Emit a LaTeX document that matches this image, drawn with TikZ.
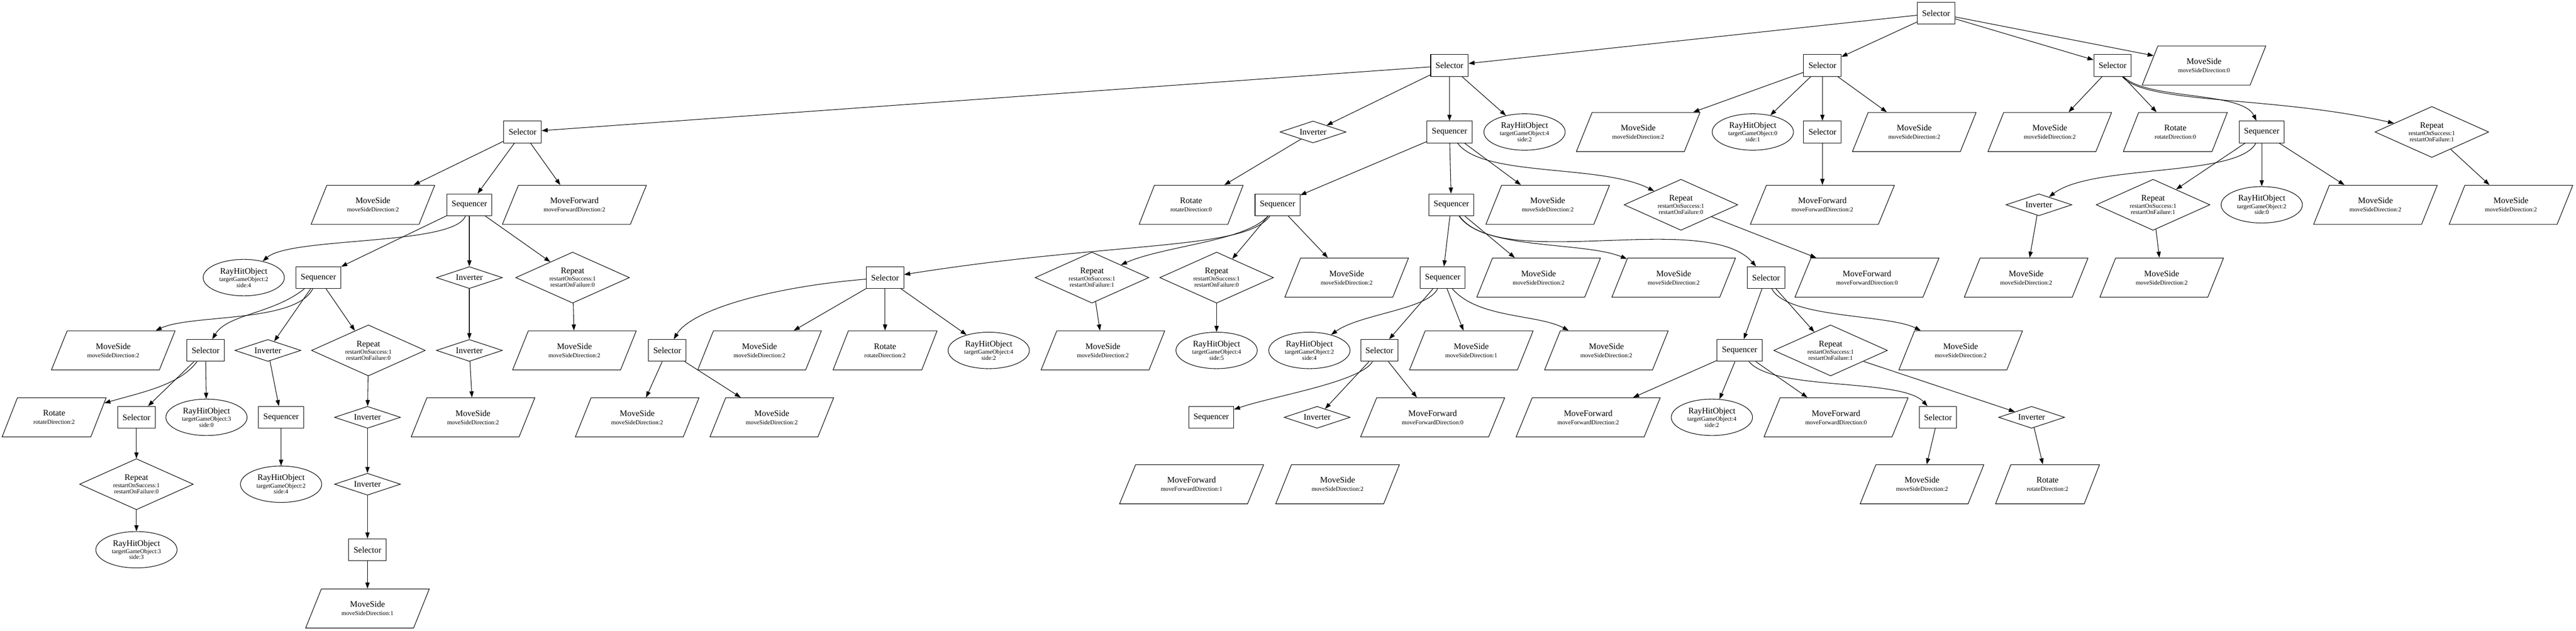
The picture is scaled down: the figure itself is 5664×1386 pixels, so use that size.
\documentclass[tikz,border=0pt]{standalone}
\usepackage{fontspec}
\setmainfont{Liberation Serif}
\usetikzlibrary{arrows.meta,shapes.geometric}
\newcommand{\twol}[2]{#1\\[1.5pt]{\fontsize{10}{12}\selectfont #2}}
\newcommand{\threel}[3]{#1\\{\fontsize{10}{12}\selectfont #2}\\[-2pt]{\fontsize{10}{12}\selectfont #3}}
\begin{document}
\begin{tikzpicture}[x=0.75pt,y=-0.75pt,
  font=\fontsize{14}{12}\selectfont,
  every node/.style={draw, line width=0.9pt, align=center},
  box/.style={rectangle, minimum height=36pt, inner xsep=8pt, inner ysep=0pt},
  par/.style={trapezium, trapezium left angle=58, trapezium right angle=122, trapezium stretches=true, minimum height=64.5pt, inner sep=0pt},
  msd/.style={par, minimum width=204pt},
  mfd/.style={par, minimum width=238pt},
  rod/.style={par, minimum width=172pt},
  inv/.style={diamond, aspect=3, minimum width=108.75pt, minimum height=36pt, inner sep=0pt},
  rep/.style={diamond, aspect=2.2, minimum width=187.5pt, minimum height=84pt, inner sep=0pt},
  rh/.style={ellipse, minimum width=134pt, minimum height=60pt, inner sep=0pt},
  edg/.style={draw, line width=0.9pt, -{Triangle[length=10pt,width=7pt]}}
]
\useasboundingbox (0,0) rectangle (5664,1386);
% rank 0
\node[box] (r) at (4257,29) {Selector};
% rank 1
\node[box] (s1) at (3187,144) {Selector};
\node[box] (s2) at (4007,144) {Selector};
\node[box] (s3) at (4645,144) {Selector};
\node[msd] (m1) at (4846,144) {\twol{MoveSide}{moveSideDirection:0}};
% rank 2
\node[box] (sA) at (1149,290) {Selector};
\node[inv] (inv1) at (2887,290) {Inverter};
\node[box] (q1) at (3187,290) {Sequencer};
\node[rh] (rh1) at (3352,290) {\threel{RayHitObject}{targetGameObject:4}{side:2}};
\node[msd] (ms2a) at (3602,290) {\twol{MoveSide}{moveSideDirection:2}};
\node[rh] (rh2) at (3854,290) {\threel{RayHitObject}{targetGameObject:0}{side:1}};
\node[box] (s2b) at (4007,290) {Selector};
\node[msd] (ms2c) at (4209,290) {\twol{MoveSide}{moveSideDirection:2}};
\node[msd] (ms3a) at (4507,290) {\twol{MoveSide}{moveSideDirection:2}};
\node[rod] (ro3) at (4783,290) {\twol{Rotate}{rotateDirection:0}};
\node[box] (q3) at (4973,290) {Sequencer};
\node[rep] (rp3) at (5347,290) {\threel{Repeat}{restartOnSuccess:1}{restartOnFailure:1}};
% rank 3
\node[msd] (msL) at (820,450) {\twol{MoveSide}{moveSideDirection:2}};
\node[box] (qL) at (1032,450) {Sequencer};
\node[mfd] (mfL) at (1263,450) {\twol{MoveForward}{moveForwardDirection:2}};
\node[rod] (ro1) at (2619,450) {\twol{Rotate}{rotateDirection:0}};
\node[box] (qS1) at (2809,450) {Sequencer};
\node[box] (qS2) at (3191,450) {Sequencer};
\node[msd] (msq1) at (3403,450) {\twol{MoveSide}{moveSideDirection:2}};
\node[rep] (rpq1) at (3696,450) {\threel{Repeat}{restartOnSuccess:1}{restartOnFailure:0}};
\node[mfd] (mf2) at (4007,450) {\twol{MoveForward}{moveForwardDirection:2}};
\node[inv] (inv3) at (4483,450) {Inverter};
\node[rep] (rp3b) at (4734,450) {\threel{Repeat}{restartOnSuccess:1}{restartOnFailure:1}};
\node[rh] (rh3) at (4973,450) {\threel{RayHitObject}{targetGameObject:2}{side:0}};
\node[msd] (ms3b) at (5223,450) {\twol{MoveSide}{moveSideDirection:2}};
\node[msd] (ms3c) at (5521,450) {\twol{MoveSide}{moveSideDirection:2}};
% rank 4
\node[rh] (rhL) at (536,610) {\threel{RayHitObject}{targetGameObject:2}{side:4}};
\node[box] (qL2) at (700,610) {Sequencer};
\node[inv] (invL) at (1032,610) {Inverter};
\node[rep] (rpL) at (1259,610) {\threel{Repeat}{restartOnSuccess:1}{restartOnFailure:0}};
\node[box] (sM) at (1946,610) {Selector};
\node[rep] (rpM1) at (2401,610) {\threel{Repeat}{restartOnSuccess:1}{restartOnFailure:1}};
\node[rep] (rpM2) at (2675,610) {\threel{Repeat}{restartOnSuccess:1}{restartOnFailure:0}};
\node[msd] (msM) at (2961,610) {\twol{MoveSide}{moveSideDirection:2}};
\node[box] (qM) at (3172,610) {Sequencer};
\node[msd] (msM2) at (3383,610) {\twol{MoveSide}{moveSideDirection:2}};
\node[msd] (msM3) at (3680,610) {\twol{MoveSide}{moveSideDirection:2}};
\node[box] (sM2) at (3883,610) {Selector};
\node[mfd] (mfM) at (4105,610) {\twol{MoveForward}{moveForwardDirection:0}};
\node[msd] (ms3d) at (4455,610) {\twol{MoveSide}{moveSideDirection:2}};
\node[msd] (ms3e) at (4753,610) {\twol{MoveSide}{moveSideDirection:2}};
% rank 5
\node[msd] (msL2) at (249,770) {\twol{MoveSide}{moveSideDirection:2}};
\node[box] (sL) at (452,770) {Selector};
\node[inv] (invL2) at (589,770) {Inverter};
\node[rep] (rpL2) at (810,770) {\threel{Repeat}{restartOnSuccess:1}{restartOnFailure:0}};
\node[inv] (invL3) at (1032,770) {Inverter};
\node[msd] (msL3) at (1263,770) {\twol{MoveSide}{moveSideDirection:2}};
\node[box] (sM3) at (1467,770) {Selector};
\node[msd] (msM4) at (1670,770) {\twol{MoveSide}{moveSideDirection:2}};
\node[rod] (roM) at (1946,770) {\twol{Rotate}{rotateDirection:2}};
\node[rh] (rhM) at (2174,770) {\threel{RayHitObject}{targetGameObject:4}{side:2}};
\node[msd] (msM5) at (2425,770) {\twol{MoveSide}{moveSideDirection:2}};
\node[rh] (rhM2) at (2675,770) {\threel{RayHitObject}{targetGameObject:4}{side:5}};
\node[rh] (rhM3) at (2879,770) {\threel{RayHitObject}{targetGameObject:2}{side:4}};
\node[box] (sM4) at (3033,770) {Selector};
\node[msd] (msM6) at (3235,770) {\twol{MoveSide}{moveSideDirection:1}};
\node[msd] (msM7) at (3532,770) {\twol{MoveSide}{moveSideDirection:2}};
\node[box] (qM2) at (3825,770) {Sequencer};
\node[rep] (rpM3) at (4025,770) {\threel{Repeat}{restartOnSuccess:1}{restartOnFailure:1}};
\node[msd] (msM8) at (4311,770) {\twol{MoveSide}{moveSideDirection:2}};
% rank 6
\node[rod] (roL) at (119,917) {\twol{Rotate}{rotateDirection:2}};
\node[box] (sL2) at (300,917) {Selector};
\node[rh] (rhL2) at (454,917) {\threel{RayHitObject}{targetGameObject:3}{side:0}};
\node[box] (qL3) at (618,917) {Sequencer};
\node[inv] (invL4) at (808,917) {Inverter};
\node[msd] (msL4) at (1040,917) {\twol{MoveSide}{moveSideDirection:2}};
\node[msd] (msM9) at (1401,917) {\twol{MoveSide}{moveSideDirection:2}};
\node[msd] (msM10) at (1697,917) {\twol{MoveSide}{moveSideDirection:2}};
\node[box] (qM3) at (2663,917) {Sequencer};
\node[inv] (invM) at (2896,917) {Inverter};
\node[mfd] (mfM2) at (3150,917) {\twol{MoveForward}{moveForwardDirection:0}};
\node[mfd] (mfM3) at (3492,917) {\twol{MoveForward}{moveForwardDirection:2}};
\node[rh] (rhM4) at (3764,917) {\threel{RayHitObject}{targetGameObject:4}{side:2}};
\node[mfd] (mfM4) at (4037,917) {\twol{MoveForward}{moveForwardDirection:0}};
\node[box] (sM5) at (4261,917) {Selector};
\node[inv] (invM2) at (4467,917) {Inverter};
% rank 7
\node[rep] (rpL3) at (300,1064) {\threel{Repeat}{restartOnSuccess:1}{restartOnFailure:0}};
\node[rh] (rhL3) at (618,1064) {\threel{RayHitObject}{targetGameObject:2}{side:4}};
\node[inv] (invL5) at (808,1064) {Inverter};
\node[mfd] (mfM5) at (2620,1064) {\twol{MoveForward}{moveForwardDirection:1}};
\node[msd] (msM11) at (2941,1064) {\twol{MoveSide}{moveSideDirection:2}};
\node[msd] (msM12) at (4226,1064) {\twol{MoveSide}{moveSideDirection:2}};
\node[rod] (roM2) at (4502,1064) {\twol{Rotate}{rotateDirection:2}};
% rank 8
\node[rh] (rhL4) at (300,1208) {\threel{RayHitObject}{targetGameObject:3}{side:3}};
\node[box] (sL3) at (808,1208) {Selector};
% rank 9
\node[msd] (msL5) at (808,1337) {\twol{MoveSide}{moveSideDirection:1}};

% edges
\foreach \a/\b in {r/s1, r/s2, r/s3, r/m1,
  s1/sA, s1/inv1, s1/q1, s1/rh1,
  s2/ms2a, s2/rh2, s2/s2b, s2/ms2c,
  s3/ms3a, s3/ro3,
  sA/msL, sA/qL, sA/mfL,
  inv1/ro1,
  q1/qS1, q1/qS2, q1/msq1,
  s2b/mf2,
  q3/rp3b, q3/rh3, q3/ms3b,
  rp3/ms3c,
  qL/qL2, qL/invL, qL/rpL,
  qS1/rpM2, qS1/msM,
  qS2/qM, qS2/msM2,
  rpq1/mfM,
  inv3/ms3d, rp3b/ms3e,
  qL2/invL2, qL2/rpL2,
  invL/invL3, rpL/msL3,
  sM/msM4, sM/roM, sM/rhM,
  rpM1/msM5, rpM2/rhM2,
  qM/sM4, qM/msM6,
  sM2/qM2, sM2/rpM3,
  sL/sL2, sL/rhL2,
  invL2/qL3, rpL2/invL4, invL3/msL4,
  sM3/msM9, sM3/msM10,
  sM4/invM, sM4/mfM2,
  qM2/mfM3, qM2/rhM4, qM2/mfM4,
  rpM3/invM2,
  sL2/rpL3, qL3/rhL3, invL4/invL5,
  sM5/msM12, invM2/roM2,
  rpL3/rhL4, invL5/sL3, sL3/msL5}
  \draw[edg] (\a) -- (\b);

% curved edges
\draw[edg] (s3) .. controls (4720,220) and (4930,200) .. (q3);
\draw[edg] (s3) .. controls (4720,230) and (5000,210) .. (rp3);
\draw[edg] (q1) .. controls (3260,390) and (3520,360) .. (rpq1);
\draw[edg] (q3) .. controls (4920,390) and (4600,360) .. (inv3);
\draw[edg] (qL) .. controls (1000,540) and (640,520) .. (rhL);
\draw[edg] (qS1) .. controls (2740,550) and (2450,530) .. (sM);
\draw[edg] (qS1) .. controls (2740,530) and (2560,540) .. (rpM1);
\draw[edg] (qS2) .. controls (3260,550) and (3480,530) .. (msM3);
\draw[edg] (qS2) .. controls (3300,600) and (3750,460) .. (sM2);
\draw[edg] (qL2) .. controls (650,710) and (420,690) .. (msL2);
\draw[edg] (qL2) .. controls (600,690) and (500,690) .. (sL);
\draw[edg] (sM) .. controls (1700,630) and (1520,680) .. (sM3);
\draw[edg] (qM) .. controls (3140,680) and (2990,690) .. (rhM3);
\draw[edg] (qM) .. controls (3250,700) and (3380,690) .. (msM7);
\draw[edg] (sM2) .. controls (3930,700) and (4150,690) .. (msM8);
\draw[edg] (sL) .. controls (395,845) and (320,860) .. (roL);
\draw[edg] (sM4) .. controls (2990,840) and (2800,870) .. (qM3);
\draw[edg] (qM2) .. controls (3900,860) and (4180,830) .. (sM5);
\end{tikzpicture}
\end{document}
